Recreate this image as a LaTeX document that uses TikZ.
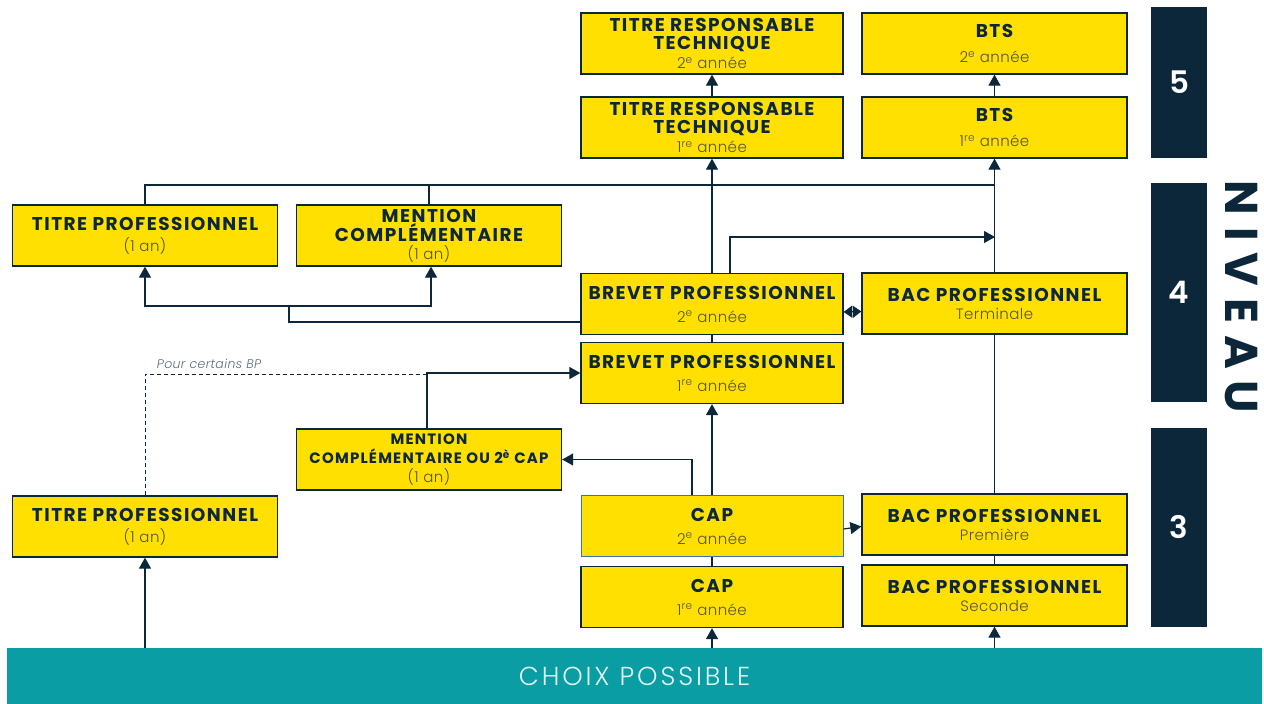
\documentclass[tikz,border=0pt]{standalone}
\usepackage{fontspec}
\setmainfont{Poppins}
\newfontfamily\lightfont{Poppins Light}
\newfontfamily\moyenfont{Poppins SemiBold}
\usetikzlibrary{arrows.meta}
\definecolor{jaune}{HTML}{FFE000}
\definecolor{marine}{HTML}{0B2739}
\definecolor{sarcelle}{HTML}{0A9DA4}
\definecolor{soustitre}{HTML}{55553C}
\definecolor{gris}{HTML}{5E6B75}
\newcommand{\annee}[1]{{\lightfont\mdseries\fontsize{15}{15}\selectfont\addfontfeature{LetterSpace=3}\color{soustitre}#1}}
\tikzset{
  boite/.style={draw=marine,line width=1.3pt,fill=jaune,minimum width=262pt,minimum height=61pt,
    inner sep=0pt,align=center,text=marine,font=\fontsize{18.5}{18}\selectfont\bfseries\addfontfeature{LetterSpace=8}},
  large/.style={minimum width=265pt},
  niv/.style={fill=marine,minimum width=56pt,inner sep=0pt,text=white,font=\moyenfont\fontsize{31}{31}\selectfont},
  lien/.style={draw=marine,line width=1.2pt},
  fl/.style={lien,-{Triangle[width=12pt,length=11pt]}},
  dfl/.style={lien,{Triangle[width=12pt,length=8.5pt]}-{Triangle[width=12pt,length=8.5pt]}},
}
\begin{document}
\begin{tikzpicture}[x=1pt,y=-1pt]
\useasboundingbox (0,0) rectangle (1264,704);
% niveau 5
\node[boite] (trtb) at (712,43.5) {TITRE RESPONSABLE\\TECHNIQUE\\[1pt]\annee{2\textsuperscript{e} année}};
\node[boite] (trta) at (712,127.5) {TITRE RESPONSABLE\\TECHNIQUE\\[1pt]\annee{1\textsuperscript{re} année}};
\node[boite,large] (btsb) at (994.5,43.5) {BTS\\[7pt]\annee{2\textsuperscript{e} année}};
\node[boite,large] (btsa) at (994.5,127.5) {BTS\\[7pt]\annee{1\textsuperscript{re} année}};
% niveau 4
\node[boite,large] (tpa) at (145,235.5) {TITRE PROFESSIONNEL\\[3pt]\annee{(1 an)}};
\node[boite,large] (mca) at (429,235.5) {MENTION\\COMPLÉMENTAIRE\\\annee{(1 an)}};
\node[boite] (bpb) at (712,304) {BREVET PROFESSIONNEL\\[5pt]\annee{2\textsuperscript{e} année}};
\node[boite,large] (bact) at (994.5,303.5) {BAC PROFESSIONNEL\\\annee{Terminale}};
\node[boite] (bpa) at (712,373) {BREVET PROFESSIONNEL\\[5pt]\annee{1\textsuperscript{re} année}};
% niveau 3
\node[boite,large,font=\fontsize{15}{19}\selectfont\bfseries\addfontfeature{LetterSpace=8}] (mccap) at (429,459.5) {MENTION\\COMPLÉMENTAIRE OU 2\textsuperscript{è} CAP\\\annee{(1 an)}};
\node[boite,large] (tpb) at (145,526.5) {TITRE PROFESSIONNEL\\[3pt]\annee{(1 an)}};
\node[boite,draw={rgb,255:red,58;green,117;blue,168},line width=0.9pt] (capb) at (712,526) {CAP\\[5pt]\annee{2\textsuperscript{e} année}};
\node[boite,large] (bacp) at (994.5,524.5) {BAC PROFESSIONNEL\\\annee{Première}};
\node[boite] (capa) at (712,597) {CAP\\[5pt]\annee{1\textsuperscript{re} année}};
\node[boite,large] (bacs) at (994.5,595.5) {BAC PROFESSIONNEL\\\annee{Seconde}};
% barres de niveau
\node[niv,minimum height=151pt] (niv5) at (1179,82.5) {5};
\node[niv,minimum height=219pt] (niv4) at (1179,292.5) {4};
\node[niv,minimum height=199pt] (niv3) at (1179,527.5) {3};
\node[rotate=-90,text=marine,font=\fontsize{46}{46}\selectfont\bfseries\addfontfeature{LetterSpace=26}] (niveau) at (1241,297) {NIVEAU};
\node[fill=sarcelle,minimum width=1255pt,minimum height=56pt,inner sep=0pt,text={rgb,255:red,228;green,245;blue,245},
  font=\lightfont\fontsize{26}{26}\selectfont\addfontfeature{LetterSpace=11}] (choix) at (634.5,676) {CHOIX POSSIBLE};
% liaisons
\coordinate (haut) at (995,185);
\coordinate (mil) at (995,237);
\coordinate (gauche) at (289,306);
\coordinate (pont) at (427,374);
\draw[lien] (tpa.north) |- (haut);
\draw[lien] (mca.north) -- (mca.north |- haut);
\draw[fl] (trta.north) -- (trtb.south);
\draw[fl] (btsa.north) -- (btsb.south);
\draw[fl] (bpb.north) -- (trta.south);
\draw[fl] (bact.north) -- (btsa.south);
\draw[fl] ([xshift=18pt]bpb.north) |- (mil);
\draw[lien] (bacp.north) -- (bact.south);
\draw[lien] (bacs.north) -- (bacp.south);
\draw[lien] (bpa.north) -- (bpb.south);
\draw[lien] (capa.north) -- (capb.south);
\draw[fl] (capb.north) -- (bpa.south);
\draw[fl] ([xshift=-20pt]capb.north) |- (mccap.east);
\draw[fl] (pont |- mccap.north) |- (bpa.west);
\draw[lien,line width=0.9pt,dash pattern=on 4pt off 3pt] (tpb.north) |- (pont);
\node[text=gris,font=\lightfont\fontsize{12.5}{12}\selectfont\itshape\addfontfeature{LetterSpace=3}] (pour) at (209,364) {Pour certains BP};
\draw[lien] ([yshift=-18pt]bpb.west) -| (gauche);
\draw[fl] (gauche) -| (tpa.south);
\draw[fl] (gauche) -| ([xshift=2pt]mca.south);
\draw[dfl] ([yshift=-8pt]bpb.east) -- ([yshift=-8pt]bact.west);
\draw[fl] ([yshift=-3pt]capb.east) -- ([yshift=-2pt]bacp.west);
\foreach \n in {tpb,capa,bacs}{\draw[fl] (\n.south |- choix.north) -- (\n.south);}
\end{tikzpicture}
\end{document}
